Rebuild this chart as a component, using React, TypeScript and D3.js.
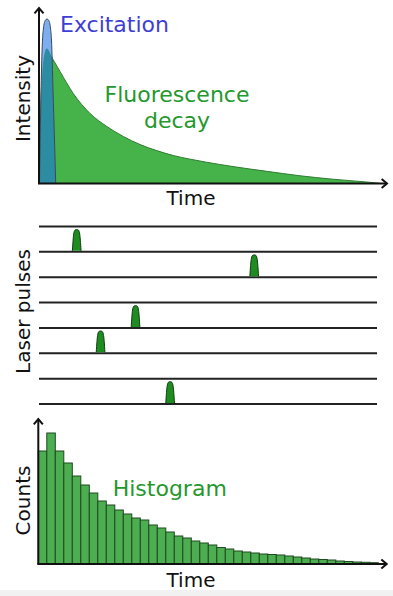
import React from "react";
import * as d3 from "d3";

const W = 393;
const H = 596;

// top panel: time (ns) and intensity relative to the excitation peak
const decayTime = [0, 0.058, 0.13, 0.223, 0.413, 0.607, 0.991, 1.474, 1.957, 2.436, 2.919, 3.402, 3.882, 4.364, 4.847, 5.607, 6.581, 7.543, 8.497, 9.471, 9.855];
const decayIntensity = [0, 0.508, 0.751, 0.821, 0.751, 0.681, 0.547, 0.426, 0.347, 0.286, 0.237, 0.2, 0.17, 0.148, 0.129, 0.103, 0.074, 0.047, 0.026, 0.009, 0.001];
const excitationTime = [0.014, 0.043, 0.072, 0.101, 0.13, 0.173, 0.231, 0.289, 0.332, 0.361, 0.405, 0.448, 0.483];
const excitationIntensity = [0, 0.386, 0.69, 0.872, 0.945, 0.988, 1, 0.988, 0.945, 0.872, 0.568, 0.264, 0];

// middle panel: one laser pulse per row (row index, arrival time)
const rowCount = 8;
const pulseRows = [1, 2, 4, 5, 7];
const pulseTimes = [1.09, 6.22, 2.79, 1.78, 3.79];
const pulseDt = [-0.125, -0.105, -0.08, -0.045, 0, 0.045, 0.08, 0.105, 0.125];
const pulseLevel = [0, 0.5, 0.85, 0.98, 1, 0.98, 0.85, 0.5, 0];

// bottom panel: photon counts per time bin
const counts = [113, 131, 113, 101, 88, 79, 71, 63, 59, 54, 50, 46, 44, 39, 36, 32, 28, 26, 23, 21, 19, 16.5, 15, 13, 12, 11, 10, 9.5, 9, 8, 7, 6, 5, 4.5, 4, 3, 2.5, 2, 1.7, 1.3];

const font = "DejaVu Sans, Verdana, sans-serif";

function Arrow({ x1, y1, x2, y2 }: { x1: number; y1: number; x2: number; y2: number }) {
  const ang = Math.atan2(y2 - y1, x2 - x1);
  const len = 7, half = 0.7;
  const p1 = [x2 - len * Math.cos(ang - half), y2 - len * Math.sin(ang - half)];
  const p2 = [x2 - len * Math.cos(ang + half), y2 - len * Math.sin(ang + half)];
  return (
    <g stroke="#111" strokeWidth={2} fill="none">
      <line x1={x1} y1={y1} x2={x2} y2={y2} />
      <path d={`M${p1[0]},${p1[1]}L${x2},${y2}L${p2[0]},${p2[1]}`} strokeLinejoin="miter" />
    </g>
  );
}

export default function App() {
  const x = d3.scaleLinear().domain([0, 10]).range([39, 385]);

  // top
  const yI = d3.scaleLinear().domain([0, 1]).range([183.5, 19]);
  const area = d3.area<[number, number]>()
    .x((d) => x(d[0]))
    .y0(yI(0))
    .y1((d) => yI(d[1]))
    .curve(d3.curveMonotoneX);
  const decay = decayTime.map((t, i) => [t, decayIntensity[i]] as [number, number]);
  const excit = excitationTime.map((t, i) => [t, excitationIntensity[i]] as [number, number]);
  const decayPath = area(decay) || "";
  const excitPath = area(excit) || "";

  // middle
  const yRow = d3.scaleLinear().domain([0, rowCount - 1]).range([226.5, 404]);
  const rowStep = yRow(1) - yRow(0);
  const lineEnd = 9.77;

  // bottom
  const xb = d3.scaleBand<number>().domain(d3.range(counts.length)).range([38.3, 378.3]).padding(0);
  const yc = d3.scaleLinear().domain([0, 131]).range([564, 433]);

  return (
    <svg width={W} height={H} style={{ position: "absolute", left: 0, top: 0, background: "#fff" }} fontFamily={font}>
      <defs>
        <clipPath id="decayClip">
          <path d={decayPath} />
        </clipPath>
      </defs>
      <rect x={0} y={590} width={W} height={6} fill="#f1f1f1" />

      {/* top panel */}
      <path d={decayPath} fill="#46b34a" stroke="#2e7d30" strokeWidth={1} />
      <path d={excitPath} fill="#7eaef0" />
      <path d={excitPath} fill="#2b8ca2" clipPath="url(#decayClip)" />
      <path d={excitPath} fill="none" stroke="#3a4a5a" strokeWidth={1} />
      <Arrow x1={x(0)} y1={yI(0)} x2={x(0)} y2={8} />
      <Arrow x1={x(0) - 1} y1={yI(0)} x2={387} y2={yI(0)} />
      <text x={60} y={32} fontSize={22} fill="#3e3ed4">Excitation</text>
      <text x={177} y={102} fontSize={22} fill="#24982c" textAnchor="middle">Fluorescence</text>
      <text x={177} y={128} fontSize={22} fill="#24982c" textAnchor="middle">decay</text>
      <text transform="translate(29.5,98.5) rotate(-90)" fontSize={20} fill="#111" textAnchor="middle">Intensity</text>
      <text x={191} y={205} fontSize={20} fill="#111" textAnchor="middle">Time</text>

      {/* middle panel */}
      {d3.range(rowCount).map((r) => (
        <line key={r} x1={x(0)} x2={x(lineEnd)} y1={yRow(r)} y2={yRow(r)} stroke="#222" strokeWidth={2} />
      ))}
      {pulseRows.map((r, i) => {
        const line = d3.line<number>()
          .x((dt) => x(pulseTimes[i] + dt))
          .y((_, j) => yRow(r) - 1 - pulseLevel[j] * rowStep * 0.84)
          .curve(d3.curveMonotoneX);
        return <path key={i} d={line(pulseDt) || ""} fill="#1f8c22" stroke="#0f3d10" strokeWidth={1} />;
      })}
      <text transform="translate(29.5,311.5) rotate(-90)" fontSize={20} fill="#111" textAnchor="middle">Laser pulses</text>

      {/* bottom panel */}
      {counts.map((c, i) => (
        <rect key={i} x={xb(i)} y={yc(c)} width={xb.bandwidth()} height={yc(0) - yc(c)}
          fill="#4cae50" stroke="#1f4a20" strokeWidth={1} />
      ))}
      <Arrow x1={38.3} y1={yc(0)} x2={38.3} y2={419} />
      <Arrow x1={37.3} y1={yc(0)} x2={386.7} y2={yc(0)} />
      <text x={112.7} y={496} fontSize={22} fill="#24982c">Histogram</text>
      <text transform="translate(29.5,500.5) rotate(-90)" fontSize={20} fill="#111" textAnchor="middle">Counts</text>
      <text x={191} y={587} fontSize={20} fill="#111" textAnchor="middle">Time</text>
    </svg>
  );
}
